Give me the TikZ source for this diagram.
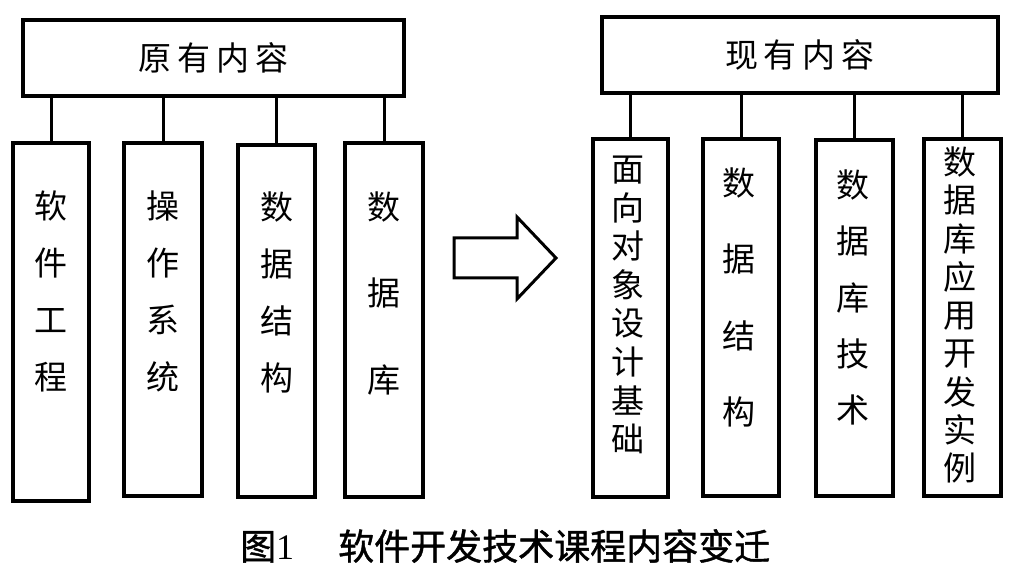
\documentclass[tikz,border=0pt]{standalone}
\usepackage{fontspec}
\setmainfont{Liberation Serif}
\newfontfamily\cjk{Noto Sans CJK SC}
\newfontfamily\cjkb[FakeBold=1.2]{Noto Sans CJK SC}
\begin{document}
\begin{tikzpicture}[x=1pt,y=-1pt,
  box/.style={draw, line width=3.5pt, inner sep=0pt, outer sep=0pt, fill=white},
  conn/.style={line width=3pt},
  vtext/.style={align=center, inner sep=0pt, font=\cjk\fontsize{33}{#1}\selectfont},
  toptext/.style={font=\cjk\fontsize{33}{40}\selectfont}]
\useasboundingbox (0,0) rectangle (1017,569);
% top boxes
\node[box, toptext, minimum width=381pt, minimum height=76pt] (LT) at (213.5,58)
  {\raisebox{-4pt}{原\hspace{6pt}有\hspace{6pt}内\hspace{6pt}容}};
\node[box, toptext, minimum width=396pt, minimum height=76pt] (RT) at (800,55)
  {\raisebox{-4pt}{现\hspace{6pt}有\hspace{6pt}内\hspace{6pt}容}};
% left boxes
\node[box, minimum width=76pt, minimum height=358pt] (L1) at (51,322) {};
\node[box, minimum width=78pt, minimum height=353pt] (L2) at (163,319.5) {};
\node[box, minimum width=77pt, minimum height=352pt] (L3) at (276.5,321) {};
\node[box, minimum width=78pt, minimum height=354pt] (L4) at (384,320) {};
% right boxes
\node[box, minimum width=75pt, minimum height=358pt] (R1) at (630.5,318) {};
\node[box, minimum width=76pt, minimum height=357pt] (R2) at (741,317.5) {};
\node[box, minimum width=77pt, minimum height=356pt] (R3) at (854.5,318) {};
\node[box, minimum width=77pt, minimum height=357pt] (R4) at (962.5,317.5) {};
% texts
\node[vtext=57] (L1t) at (51,291) {软\\件\\工\\程};
\node[vtext=57] (L2t) at (163,291) {操\\作\\系\\统};
\node[vtext=57] (L3t) at (276.5,292.5) {数\\据\\结\\构};
\node[vtext=86.5] (L4t) at (384,293.5) {数\\据\\库};
\node[vtext=38.6] (R1t) at (628,305) {面\\向\\对\\象\\设\\计\\基\\础};
\node[vtext=76.3] (R2t) at (739,297.5) {数\\据\\结\\构};
\node[vtext=56.25] (R3t) at (852.5,297.5) {数\\据\\库\\技\\术};
\node[vtext=38.25] (R4t) at (960,315) {数\\据\\库\\应\\用\\开\\发\\实\\例};
% connectors
\foreach \b in {L1,L2,L3,L4} \draw[conn] (\b.north) -- (\b.north |- LT.south);
\foreach \b in {R1,R2,R3,R4} \draw[conn] (\b.north) -- (\b.north |- RT.south);
% arrow
\draw[line width=3pt, line join=miter] (454,238) -- (517,238) -- (517,217) -- (556,258)
  -- (517,299) -- (517,278) -- (454,278) -- cycle;
% caption
\node[anchor=west, inner sep=0pt, font=\fontsize{36}{40}\selectfont] (cap) at (240,546)
  {{\cjkb 图}1\hspace{44pt}{\cjkb 软件开发技术课程内容变迁}};
\end{tikzpicture}
\end{document}
